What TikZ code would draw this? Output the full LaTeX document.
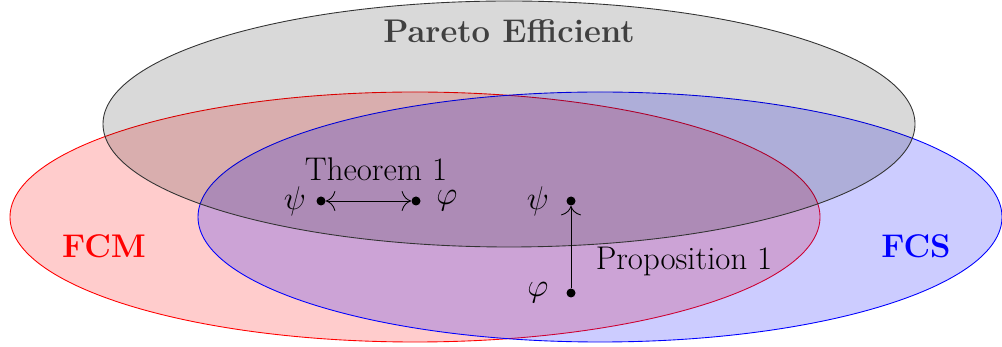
\documentclass[tikz,border=0pt]{standalone}
\usetikzlibrary{arrows.meta}
\begin{document}
\begin{tikzpicture}[
  setred/.style={draw=red, fill=red, fill opacity=0.2, line width=0.5pt},
  setblue/.style={draw=blue, fill=blue, fill opacity=0.2, line width=0.5pt},
  setgray/.style={draw=black!80, fill=black, fill opacity=0.15, line width=0.5pt},
  lbl/.style={font=\LARGE, inner sep=0pt, scale=1.08},
  pt/.style={circle, fill=black, inner sep=0pt, minimum size=0.18cm},
  arr/.style={line width=0.5pt, arrows={-To[scale=2]}},
  darr/.style={line width=0.5pt, arrows={To[scale=2]-To[scale=2]}}
]
\useasboundingbox (0,0) rectangle (20.04,-6.94);
% sets
\path[setred] (8.3,-4.34) ellipse [x radius=8.1, y radius=2.5];
\path[setblue] (12.0,-4.34) ellipse [x radius=8.04, y radius=2.5];
\path[setgray] (10.18,-2.48) ellipse [x radius=8.12, y radius=2.46];
% labels
\node[lbl, font=\LARGE\bfseries, text=black!75] (pareto) at (10.18,-0.62) {Pareto Efficient};
\node[lbl, font=\LARGE\bfseries, text=red] (fcm) at (2.08,-4.92) {FCM};
\node[lbl, font=\LARGE\bfseries, text=blue] (fcs) at (18.32,-4.92) {FCS};
% theorem
\node[lbl] (thm) at (7.52,-3.38) {Theorem 1};
\node[pt] (a) at (6.42,-4.02) {};
\node[pt] (b) at (8.32,-4.02) {};
\node[lbl] (psia) at (5.9,-4.02) {$\psi$};
\node[lbl] (phia) at (8.94,-4.02) {$\varphi$};
\draw[darr] (a) -- (b);
% proposition
\node[pt] (c) at (11.42,-4.02) {};
\node[pt] (d) at (11.42,-5.86) {};
\node[lbl] (psib) at (10.76,-4.02) {$\psi$};
\node[lbl] (phib) at (10.76,-5.86) {$\varphi$};
\draw[arr] (d) -- (c);
\node[lbl] (prop) at (13.68,-5.24) {Proposition 1};
\end{tikzpicture}
\end{document}
